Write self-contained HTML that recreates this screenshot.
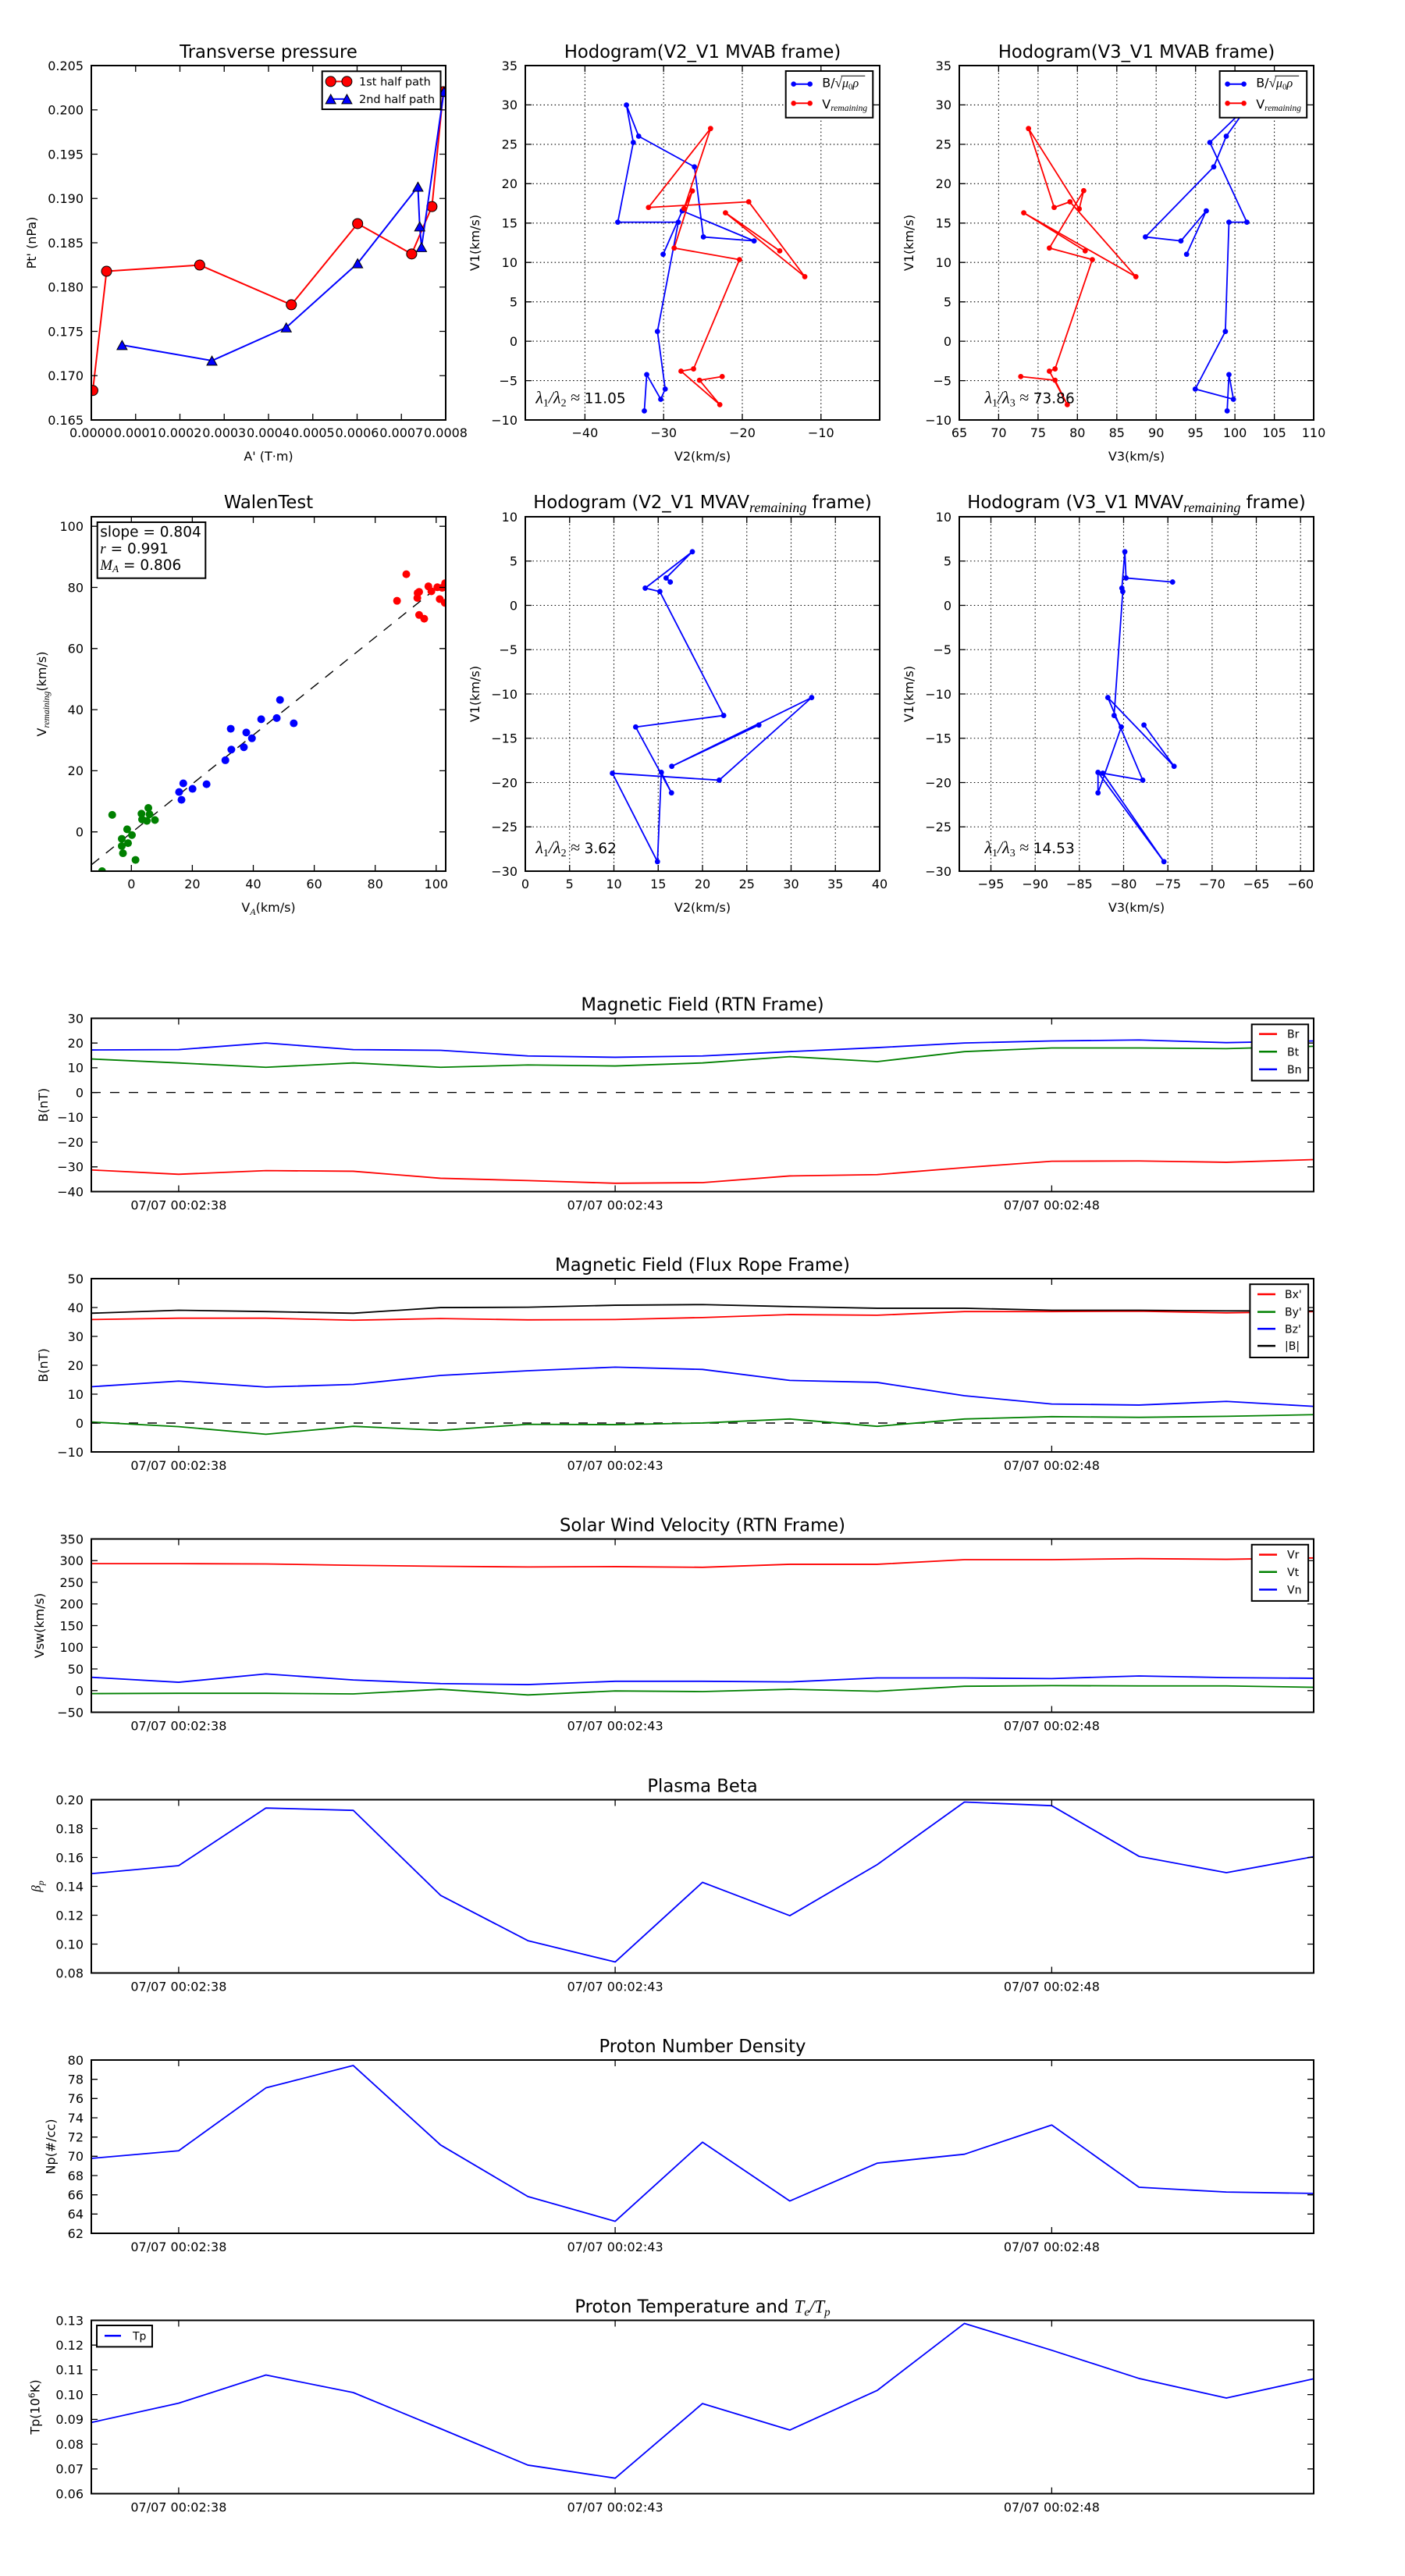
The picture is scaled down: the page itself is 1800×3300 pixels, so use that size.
<!DOCTYPE html>
<html><head><meta charset="utf-8">
<style>
html,body{margin:0;padding:0;background:#fff;}
svg{display:block;}
text{font-family:"DejaVu Sans","Liberation Sans",sans-serif;fill:#000;}
.tk{font-size:16px;}
.ttl{font-size:22.7px;}
.lb{font-size:16px;}
.mi{font-family:"Liberation Serif","DejaVu Serif",serif;font-style:italic;}
.mr{font-family:"Liberation Serif","DejaVu Serif",serif;font-style:normal;}
.fr{fill:none;stroke:#000;stroke-width:2;}
.tick{fill:none;stroke:#000;stroke-width:1.3;}
.grid{fill:none;stroke:#000;stroke-width:1.1;stroke-dasharray:1.5,3.2;}
.ln{fill:none;stroke-width:1.8;vector-effect:non-scaling-stroke;stroke-linejoin:round;}
.dz{fill:none;stroke:#000;stroke-width:1.4;stroke-dasharray:12,12;}
</style></head><body>
<svg width="1800" height="3300" viewBox="0 0 1800 3300" xmlns="http://www.w3.org/2000/svg">
<rect width="1800" height="3300" fill="#fff"/>
<defs>
<clipPath id="c1"><rect x="117" y="84" width="454" height="454"/></clipPath>
<clipPath id="c2"><rect x="673" y="84" width="454" height="454"/></clipPath>
<clipPath id="c3"><rect x="1229" y="84" width="454" height="454"/></clipPath>
<clipPath id="c4"><rect x="117" y="662" width="454" height="454"/></clipPath>
<clipPath id="c5"><rect x="673" y="662" width="454" height="454"/></clipPath>
<clipPath id="c6"><rect x="1229" y="662" width="454" height="454"/></clipPath>
<clipPath id="t1"><rect x="117" y="1304.5" width="1566" height="222"/></clipPath>
<clipPath id="t2"><rect x="117" y="1638" width="1566" height="222"/></clipPath>
<clipPath id="t3"><rect x="117" y="1971.5" width="1566" height="222"/></clipPath>
<clipPath id="t4"><rect x="117" y="2305.5" width="1566" height="222"/></clipPath>
<clipPath id="t5"><rect x="117" y="2639" width="1566" height="222"/></clipPath>
<clipPath id="t6"><rect x="117" y="2972.5" width="1566" height="222"/></clipPath>
<marker id="m1r" markerUnits="userSpaceOnUse" markerWidth="60" markerHeight="60" viewBox="-30 -30 60 60" refX="0" refY="0" overflow="visible"><ellipse rx="17" ry="17.9" fill="#f00" stroke="#000" stroke-width="2.7"/></marker>
<marker id="m1b" markerUnits="userSpaceOnUse" markerWidth="60" markerHeight="60" viewBox="-30 -30 60 60" refX="0" refY="0" overflow="visible"><polygon points="0,-16 17,16 -17,16" fill="#00f" stroke="#000" stroke-width="2.7"/></marker>
<marker id="mb" markerUnits="userSpaceOnUse" markerWidth="30" markerHeight="30" viewBox="-15 -15 30 30" refX="0" refY="0" overflow="visible"><ellipse rx="8.9" ry="9.3" fill="#00f"/></marker>
<marker id="mr" markerUnits="userSpaceOnUse" markerWidth="30" markerHeight="30" viewBox="-15 -15 30 30" refX="0" refY="0" overflow="visible"><ellipse rx="8.9" ry="9.3" fill="#f00"/></marker>
<marker id="wg" markerUnits="userSpaceOnUse" markerWidth="40" markerHeight="40" viewBox="-20 -20 40 40" refX="0" refY="0" overflow="visible"><ellipse rx="13.1" ry="13.5" fill="#008000"/></marker>
<marker id="wb" markerUnits="userSpaceOnUse" markerWidth="40" markerHeight="40" viewBox="-20 -20 40 40" refX="0" refY="0" overflow="visible"><ellipse rx="13.1" ry="13.5" fill="#00f"/></marker>
<marker id="wr" markerUnits="userSpaceOnUse" markerWidth="40" markerHeight="40" viewBox="-20 -20 40 40" refX="0" refY="0" overflow="visible"><ellipse rx="13.1" ry="13.5" fill="#f00"/></marker>
</defs>

<!-- ================= PLOT 1: Transverse pressure ================= -->
<text class="ttl" x="344" y="74" text-anchor="middle">Transverse pressure</text>
<g clip-path="url(#c1)"><g transform="matrix(0.38248 0 0 0.36349 0.34 30.2)">
<polyline class="ln" stroke="#f00" style="stroke-width:2" points="310,1293 356,873 668,851 975,991 1197,705 1378,812 1446,645 1484,240" marker-start="url(#m1r)" marker-mid="url(#m1r)" marker-end="url(#m1r)"/>
<polyline class="ln" stroke="#00f" style="stroke-width:2" points="408,1133 709,1188 958,1071 1197,845 1399,575 1405,715 1411,788 1486,240" marker-start="url(#m1b)" marker-mid="url(#m1b)" marker-end="url(#m1b)"/>
</g></g>
<path class="tick" d="M173.75 538V530M230.5 538V530M287.25 538V530M344 538V530M400.75 538V530M457.5 538V530M514.25 538V530M173.75 84V92M230.5 84V92M287.25 84V92M344 84V92M400.75 84V92M457.5 84V92M514.25 84V92M117 140.75H125M117 197.5H125M117 254.25H125M117 311H125M117 367.75H125M117 424.5H125M117 481.25H125M571 140.75H563M571 197.5H563M571 254.25H563M571 311H563M571 367.75H563M571 424.5H563M571 481.25H563"/>
<rect class="fr" x="117" y="84" width="454" height="454"/>
<g class="tk" text-anchor="middle">
<text x="117" y="560">0.0000</text><text x="173.75" y="560">0.0001</text><text x="230.5" y="560">0.0002</text><text x="287.25" y="560">0.0003</text><text x="344" y="560">0.0004</text><text x="400.75" y="560">0.0005</text><text x="457.5" y="560">0.0006</text><text x="514.25" y="560">0.0007</text><text x="571" y="560">0.0008</text>
</g>
<g class="tk" text-anchor="end">
<text x="107" y="89.8">0.205</text><text x="107" y="146.5">0.200</text><text x="107" y="203.3">0.195</text><text x="107" y="260">0.190</text><text x="107" y="316.8">0.185</text><text x="107" y="373.5">0.180</text><text x="107" y="430.3">0.175</text><text x="107" y="487">0.170</text><text x="107" y="543.8">0.165</text>
</g>
<text class="lb" x="344" y="590" text-anchor="middle">A' (T·m)</text>
<text class="lb" transform="translate(46,311) rotate(-90)" text-anchor="middle">Pt' (nPa)</text>
<rect x="412.7" y="91.3" width="151.8" height="48.7" fill="#fff" stroke="#000" stroke-width="2"/>
<line x1="423.7" y1="104.4" x2="444.4" y2="104.4" stroke="#f00" stroke-width="2"/>
<circle cx="423.7" cy="104.4" r="6.5" fill="#f00" stroke="#000"/><circle cx="444.4" cy="104.4" r="6.5" fill="#f00" stroke="#000"/>
<text x="460" y="109.6" font-size="14.5">1st half path</text>
<line x1="423.7" y1="126.9" x2="444.4" y2="126.9" stroke="#00f" stroke-width="2"/>
<polygon points="423.7,120.9 430.2,132.9 417.2,132.9" fill="#00f" stroke="#000"/><polygon points="444.4,120.9 450.9,132.9 437.9,132.9" fill="#00f" stroke="#000"/>
<text x="460" y="132.1" font-size="14.5">2nd half path</text>

<!-- ================= PLOT 2: Hodogram V2_V1 MVAB ================= -->
<text class="ttl" x="900" y="74" text-anchor="middle">Hodogram(V2_V1 MVAB frame)</text>
<path class="grid" d="M749.4 84V538M850.2 84V538M951 84V538M1051.8 84V538M673 134.4H1127M673 184.9H1127M673 235.3H1127M673 285.8H1127M673 336.2H1127M673 386.7H1127M673 437.1H1127M673 487.6H1127"/>
<g clip-path="url(#c2)"><g transform="matrix(0.38215 0 0 0.36349 600.39 30.2)">
<polyline class="ln" stroke="#00f" points="652,813 716,660 957,766 787,752 757,505 570,397 529,287 552,419 500,700 703,700 633,1085 659,1288 644,1324 597,1237 589,1365" marker-start="url(#mb)" marker-mid="url(#mb)" marker-end="url(#mb)"/>
<polyline class="ln" stroke="#f00" points="1043,801 861,667 1127,892 939,628 603,648 811,370 722,652 750,590 689,791 908,832 754,1217 712,1225 842,1343 774,1257 850,1244" marker-start="url(#mr)" marker-mid="url(#mr)" marker-end="url(#mr)"/>
</g></g>
<path class="tick" d="M749.4 538V530M850.2 538V530M951 538V530M1051.8 538V530M749.4 84V92M850.2 84V92M951 84V92M1051.8 84V92M673 134.4H681M673 184.9H681M673 235.3H681M673 285.8H681M673 336.2H681M673 386.7H681M673 437.1H681M673 487.6H681M1127 134.4H1119M1127 184.9H1119M1127 235.3H1119M1127 285.8H1119M1127 336.2H1119M1127 386.7H1119M1127 437.1H1119M1127 487.6H1119"/>
<rect class="fr" x="673" y="84" width="454" height="454"/>
<g class="tk" text-anchor="middle">
<text x="749.4" y="560">−40</text><text x="850.2" y="560">−30</text><text x="951" y="560">−20</text><text x="1051.8" y="560">−10</text>
</g>
<g class="tk" text-anchor="end">
<text x="663" y="89.8">35</text><text x="663" y="140.2">30</text><text x="663" y="190.7">25</text><text x="663" y="241.1">20</text><text x="663" y="291.6">15</text><text x="663" y="342">10</text><text x="663" y="392.5">5</text><text x="663" y="442.9">0</text><text x="663" y="493.4">−5</text><text x="663" y="543.8">−10</text>
</g>
<text class="lb" x="900" y="590" text-anchor="middle">V2(km/s)</text>
<text class="lb" transform="translate(614,311) rotate(-90)" text-anchor="middle">V1(km/s)</text>
<text x="686.4" y="516.6" font-size="18.5"><tspan class="mi" font-size="22">λ</tspan><tspan class="mr" font-size="14" dy="4">1</tspan><tspan class="mi" font-size="22" dy="-4">/</tspan><tspan class="mi" font-size="22">λ</tspan><tspan class="mr" font-size="14" dy="4">2</tspan><tspan class="mr" font-size="22" dy="-4"> ≈ </tspan>11.05</text>
<rect x="1006.7" y="91" width="111.6" height="59.7" fill="#fff" stroke="#000" stroke-width="2"/>
<line x1="1016.7" y1="107.7" x2="1037.7" y2="107.7" stroke="#00f" stroke-width="2"/>
<circle cx="1016.7" cy="107.7" r="3.3" fill="#00f"/><circle cx="1037.7" cy="107.7" r="3.3" fill="#00f"/>
<text x="1053.3" y="111.7" font-size="16">B/<tspan class="mr" font-size="17">√</tspan><tspan class="mi" font-size="16">μ</tspan><tspan class="mr" font-size="11" dy="3">0</tspan><tspan class="mi" font-size="16" dy="-3">ρ</tspan></text>
<line x1="1077.5" y1="97.3" x2="1108.3" y2="97.3" stroke="#000" stroke-width="1"/>
<line x1="1016.7" y1="132.3" x2="1037.7" y2="132.3" stroke="#f00" stroke-width="2"/>
<circle cx="1016.7" cy="132.3" r="3.3" fill="#f00"/><circle cx="1037.7" cy="132.3" r="3.3" fill="#f00"/>
<text x="1053.3" y="139" font-size="16">V<tspan class="mi" font-size="11.5" dy="3">remaining</tspan></text>

<!-- ================= PLOT 3: Hodogram V3_V1 MVAB ================= -->
<text class="ttl" x="1456" y="74" text-anchor="middle">Hodogram(V3_V1 MVAB frame)</text>
<path class="grid" d="M1279.4 84V538M1329.9 84V538M1380.3 84V538M1430.8 84V538M1481.2 84V538M1531.7 84V538M1582.1 84V538M1632.6 84V538M1229 134.4H1683M1229 184.9H1683M1229 235.3H1683M1229 285.8H1683M1229 336.2H1683M1229 386.7H1683M1229 437.1H1683M1229 487.6H1683"/>
<g clip-path="url(#c3)"><g transform="matrix(0.38215 0 0 0.36349 1200.34 30.2)">
<polyline class="ln" stroke="#00f" points="837,813 903,660 818,766 699,752 928,505 970,397 1045,287 915,419 1039,700 979,700 967,1085 866,1288 994,1324 979,1237 973,1365" marker-start="url(#mb)" marker-mid="url(#mb)" marker-end="url(#mb)"/>
<polyline class="ln" stroke="#f00" points="497,801 291,667 667,892 446,628 393,648 307,370 477,653 492,589 377,791 521,832 396,1217 377,1225 437,1343 396,1257 281,1244" marker-start="url(#mr)" marker-mid="url(#mr)" marker-end="url(#mr)"/>
</g></g>
<path class="tick" d="M1279.4 538V530M1329.9 538V530M1380.3 538V530M1430.8 538V530M1481.2 538V530M1531.7 538V530M1582.1 538V530M1632.6 538V530M1279.4 84V92M1329.9 84V92M1380.3 84V92M1430.8 84V92M1481.2 84V92M1531.7 84V92M1582.1 84V92M1632.6 84V92M1229 134.4H1237M1229 184.9H1237M1229 235.3H1237M1229 285.8H1237M1229 336.2H1237M1229 386.7H1237M1229 437.1H1237M1229 487.6H1237M1683 134.4H1675M1683 184.9H1675M1683 235.3H1675M1683 285.8H1675M1683 336.2H1675M1683 386.7H1675M1683 437.1H1675M1683 487.6H1675"/>
<rect class="fr" x="1229" y="84" width="454" height="454"/>
<g class="tk" text-anchor="middle">
<text x="1229" y="560">65</text><text x="1279.4" y="560">70</text><text x="1329.9" y="560">75</text><text x="1380.3" y="560">80</text><text x="1430.8" y="560">85</text><text x="1481.2" y="560">90</text><text x="1531.7" y="560">95</text><text x="1582.1" y="560">100</text><text x="1632.6" y="560">105</text><text x="1683" y="560">110</text>
</g>
<g class="tk" text-anchor="end">
<text x="1219" y="89.8">35</text><text x="1219" y="140.2">30</text><text x="1219" y="190.7">25</text><text x="1219" y="241.1">20</text><text x="1219" y="291.6">15</text><text x="1219" y="342">10</text><text x="1219" y="392.5">5</text><text x="1219" y="442.9">0</text><text x="1219" y="493.4">−5</text><text x="1219" y="543.8">−10</text>
</g>
<text class="lb" x="1456" y="590" text-anchor="middle">V3(km/s)</text>
<text class="lb" transform="translate(1170,311) rotate(-90)" text-anchor="middle">V1(km/s)</text>
<text x="1261.5" y="516.6" font-size="18.5"><tspan class="mi" font-size="22">λ</tspan><tspan class="mr" font-size="14" dy="4">1</tspan><tspan class="mi" font-size="22" dy="-4">/</tspan><tspan class="mi" font-size="22">λ</tspan><tspan class="mr" font-size="14" dy="4">3</tspan><tspan class="mr" font-size="22" dy="-4"> ≈ </tspan>73.86</text>
<rect x="1562.6" y="91" width="111.6" height="59.7" fill="#fff" stroke="#000" stroke-width="2"/>
<line x1="1572.6" y1="107.7" x2="1593.6" y2="107.7" stroke="#00f" stroke-width="2"/>
<circle cx="1572.6" cy="107.7" r="3.3" fill="#00f"/><circle cx="1593.6" cy="107.7" r="3.3" fill="#00f"/>
<text x="1609.2" y="111.7" font-size="16">B/<tspan class="mr" font-size="17">√</tspan><tspan class="mi" font-size="16">μ</tspan><tspan class="mr" font-size="11" dy="3">0</tspan><tspan class="mi" font-size="16" dy="-3">ρ</tspan></text>
<line x1="1633.4" y1="97.3" x2="1664.2" y2="97.3" stroke="#000" stroke-width="1"/>
<line x1="1572.6" y1="132.3" x2="1593.6" y2="132.3" stroke="#f00" stroke-width="2"/>
<circle cx="1572.6" cy="132.3" r="3.3" fill="#f00"/><circle cx="1593.6" cy="132.3" r="3.3" fill="#f00"/>
<text x="1609.2" y="139" font-size="16">V<tspan class="mi" font-size="11.5" dy="3">remaining</tspan></text>

<!-- ================= PLOT 4: WalenTest ================= -->
<text class="ttl" x="344" y="651" text-anchor="middle">WalenTest</text>
<g clip-path="url(#c4)">
<line class="dz" x1="117" y1="1107.9" x2="571" y2="744.1" style="stroke-dasharray:13,11"/>
<g transform="matrix(0.38248 0 0 0.37001 0.34 610.2)">
<polyline fill="none" stroke="none" points="375,1172 425,1222 441,1242 407,1255 428,1270 407,1280 411,1305 453,1328 341,1367 473,1168 475,1188 496,1148 491,1193 518,1190 500,1170" marker-start="url(#wg)" marker-mid="url(#wg)" marker-end="url(#wg)"/>
<polyline fill="none" stroke="none" points="599,1093 607,1120 613,1063 644,1082 691,1066 754,983 772,874 774,946 816,938 824,887 843,907 874,841 926,837 937,774 983,855" marker-start="url(#wb)" marker-mid="url(#wb)" marker-end="url(#wb)"/>
<polyline fill="none" stroke="none" points="1329,431 1360,339 1397,421 1398,404 1403,400 1403,480 1420,493 1434,381 1444,398 1464,384 1472,425 1485,384 1490,370 1489,438 1480,386" marker-start="url(#wr)" marker-mid="url(#wr)" marker-end="url(#wr)"/>
</g></g>
<path class="tick" d="M168.3 1116V1108M246.4 1116V1108M324.5 1116V1108M402.6 1116V1108M480.7 1116V1108M558.8 1116V1108M168.3 662V670M246.4 662V670M324.5 662V670M402.6 662V670M480.7 662V670M558.8 662V670M117 1065.7H125M117 987.4H125M117 909.1H125M117 830.8H125M117 752.5H125M117 674.2H125M571 1065.7H563M571 987.4H563M571 909.1H563M571 830.8H563M571 752.5H563M571 674.2H563"/>
<rect class="fr" x="117" y="662" width="454" height="454"/>
<g class="tk" text-anchor="middle">
<text x="168.3" y="1138">0</text><text x="246.4" y="1138">20</text><text x="324.5" y="1138">40</text><text x="402.6" y="1138">60</text><text x="480.7" y="1138">80</text><text x="558.8" y="1138">100</text>
</g>
<g class="tk" text-anchor="end">
<text x="107" y="1071.5">0</text><text x="107" y="993.2">20</text><text x="107" y="914.9">40</text><text x="107" y="836.6">60</text><text x="107" y="758.3">80</text><text x="107" y="680">100</text>
</g>
<text class="lb" x="344" y="1168" text-anchor="middle">V<tspan class="mi" font-size="12" dy="4">A</tspan><tspan dy="-4">(km/s)</tspan></text>
<text class="lb" transform="translate(59,889) rotate(-90)" text-anchor="middle">V<tspan class="mi" font-size="11.5" dy="4">remaining</tspan><tspan dy="-4">(km/s)</tspan></text>
<rect x="124.7" y="669" width="138.6" height="71.7" fill="#fff" stroke="#000" stroke-width="2"/>
<text x="128.3" y="687.3" font-size="18.5">slope = 0.804</text>
<text x="128.3" y="709" font-size="18.5"><tspan class="mi" font-size="19">r</tspan> = 0.991</text>
<text x="128.3" y="730" font-size="18.5"><tspan class="mi" font-size="19">M</tspan><tspan class="mi" font-size="13" dy="3">A</tspan><tspan dy="-3"> = 0.806</tspan></text>

<!-- ================= PLOT 5: Hodogram V2_V1 MVAV ================= -->
<text class="ttl" x="900" y="651" text-anchor="middle">Hodogram (V2_V1 MVAV<tspan class="mi" font-size="18" dy="5">remaining</tspan><tspan dy="-5"> frame)</tspan></text>
<path class="grid" d="M729.75 662V1116M786.5 662V1116M843.25 662V1116M900 662V1116M956.75 662V1116M1013.5 662V1116M1070.25 662V1116M673 718.75H1127M673 775.5H1127M673 832.25H1127M673 889H1127M673 945.75H1127M673 1002.5H1127M673 1059.25H1127"/>
<g clip-path="url(#c5)"><g transform="matrix(0.38215 0 0 0.37001 600.39 610.2)">
<polyline class="ln" stroke="#00f" points="973,861 681,1004 1150,766 840,1052 482,1028 633,1334 646,1025 680,1096 560,868 855,828 641,399 592,387 750,261 662,352 676,366" marker-start="url(#mb)" marker-mid="url(#mb)" marker-end="url(#mb)"/>
</g></g>
<path class="tick" d="M729.75 1116V1108M786.5 1116V1108M843.25 1116V1108M900 1116V1108M956.75 1116V1108M1013.5 1116V1108M1070.25 1116V1108M729.75 662V670M786.5 662V670M843.25 662V670M900 662V670M956.75 662V670M1013.5 662V670M1070.25 662V670M673 718.75H681M673 775.5H681M673 832.25H681M673 889H681M673 945.75H681M673 1002.5H681M673 1059.25H681M1127 718.75H1119M1127 775.5H1119M1127 832.25H1119M1127 889H1119M1127 945.75H1119M1127 1002.5H1119M1127 1059.25H1119"/>
<rect class="fr" x="673" y="662" width="454" height="454"/>
<g class="tk" text-anchor="middle">
<text x="673" y="1138">0</text><text x="729.75" y="1138">5</text><text x="786.5" y="1138">10</text><text x="843.25" y="1138">15</text><text x="900" y="1138">20</text><text x="956.75" y="1138">25</text><text x="1013.5" y="1138">30</text><text x="1070.25" y="1138">35</text><text x="1127" y="1138">40</text>
</g>
<g class="tk" text-anchor="end">
<text x="663" y="667.8">10</text><text x="663" y="724.55">5</text><text x="663" y="781.3">0</text><text x="663" y="838.05">−5</text><text x="663" y="894.8">−10</text><text x="663" y="951.55">−15</text><text x="663" y="1008.3">−20</text><text x="663" y="1065.05">−25</text><text x="663" y="1121.8">−30</text>
</g>
<text class="lb" x="900" y="1168" text-anchor="middle">V2(km/s)</text>
<text class="lb" transform="translate(614,889) rotate(-90)" text-anchor="middle">V1(km/s)</text>
<text x="686.4" y="1093" font-size="18.5"><tspan class="mi" font-size="22">λ</tspan><tspan class="mr" font-size="14" dy="4">1</tspan><tspan class="mi" font-size="22" dy="-4">/</tspan><tspan class="mi" font-size="22">λ</tspan><tspan class="mr" font-size="14" dy="4">2</tspan><tspan class="mr" font-size="22" dy="-4"> ≈ </tspan>3.62</text>

<!-- ================= PLOT 6: Hodogram V3_V1 MVAV ================= -->
<text class="ttl" x="1456" y="651" text-anchor="middle">Hodogram (V3_V1 MVAV<tspan class="mi" font-size="18" dy="5">remaining</tspan><tspan dy="-5"> frame)</tspan></text>
<path class="grid" d="M1269.5 662V1116M1326.2 662V1116M1382.8 662V1116M1439.5 662V1116M1496.2 662V1116M1552.9 662V1116M1609.5 662V1116M1666.2 662V1116M1229 718.75H1683M1229 775.5H1683M1229 832.25H1683M1229 889H1683M1229 945.75H1683M1229 1002.5H1683M1229 1059.25H1683"/>
<g clip-path="url(#c6)"><g transform="matrix(0.38215 0 0 0.37001 1200.34 610.2)">
<polyline class="ln" stroke="#00f" points="694,861 795,1004 573,766 690,1052 556,1028 761,1334 540,1025 540,1096 618,868 594,828 623,399 620,387 630,261 634,352 790,366" marker-start="url(#mb)" marker-mid="url(#mb)" marker-end="url(#mb)"/>
</g></g>
<path class="tick" d="M1269.5 1116V1108M1326.2 1116V1108M1382.8 1116V1108M1439.5 1116V1108M1496.2 1116V1108M1552.9 1116V1108M1609.5 1116V1108M1666.2 1116V1108M1269.5 662V670M1326.2 662V670M1382.8 662V670M1439.5 662V670M1496.2 662V670M1552.9 662V670M1609.5 662V670M1666.2 662V670M1229 718.75H1237M1229 775.5H1237M1229 832.25H1237M1229 889H1237M1229 945.75H1237M1229 1002.5H1237M1229 1059.25H1237M1683 718.75H1675M1683 775.5H1675M1683 832.25H1675M1683 889H1675M1683 945.75H1675M1683 1002.5H1675M1683 1059.25H1675"/>
<rect class="fr" x="1229" y="662" width="454" height="454"/>
<g class="tk" text-anchor="middle">
<text x="1269.5" y="1138">−95</text><text x="1326.2" y="1138">−90</text><text x="1382.8" y="1138">−85</text><text x="1439.5" y="1138">−80</text><text x="1496.2" y="1138">−75</text><text x="1552.9" y="1138">−70</text><text x="1609.5" y="1138">−65</text><text x="1666.2" y="1138">−60</text>
</g>
<g class="tk" text-anchor="end">
<text x="1219" y="667.8">10</text><text x="1219" y="724.55">5</text><text x="1219" y="781.3">0</text><text x="1219" y="838.05">−5</text><text x="1219" y="894.8">−10</text><text x="1219" y="951.55">−15</text><text x="1219" y="1008.3">−20</text><text x="1219" y="1065.05">−25</text><text x="1219" y="1121.8">−30</text>
</g>
<text class="lb" x="1456" y="1168" text-anchor="middle">V3(km/s)</text>
<text class="lb" transform="translate(1170,889) rotate(-90)" text-anchor="middle">V1(km/s)</text>
<text x="1261.5" y="1093" font-size="18.5"><tspan class="mi" font-size="22">λ</tspan><tspan class="mr" font-size="14" dy="4">1</tspan><tspan class="mi" font-size="22" dy="-4">/</tspan><tspan class="mi" font-size="22">λ</tspan><tspan class="mr" font-size="14" dy="4">3</tspan><tspan class="mr" font-size="22" dy="-4"> ≈ </tspan>14.53</text>

<!-- ================= TIME PANEL 1: Magnetic Field RTN ================= -->
<text class="ttl" x="900" y="1294.5" text-anchor="middle">Magnetic Field (RTN Frame)</text>
<line class="dz" x1="117" y1="1399.6" x2="1683" y2="1399.6"/>
<g clip-path="url(#t1)"><g transform="matrix(111.857 0 0 0.42692 117 1269.92)">
<polyline class="ln" stroke="#f00" points="0,536 1,549 2,538 3,540 4,561 5,568 6,576 7,574 8,554 9,550 10,529 11,510 12,509 13,513 14,505"/>
<polyline class="ln" stroke="#008000" points="0,203 1,215 2,228 3,215 4,228 5,221 6,224 7,215 8,196 9,211 10,181 11,170 12,170 13,172 14,165"/>
<polyline class="ln" stroke="#00f" points="0,176 1,175 2,155 3,175 4,177 5,194 6,198 7,194 8,181 9,169 10,155 11,149 12,146 13,154 14,149"/>
</g></g>
<path class="tick" d="M228.9 1526.5V1518.5M788.1 1526.5V1518.5M1347.4 1526.5V1518.5M228.9 1304.5V1312.5M788.1 1304.5V1312.5M1347.4 1304.5V1312.5M117 1336.2H125M117 1367.9H125M117 1399.6H125M117 1431.4H125M117 1463.1H125M117 1494.8H125M1683 1336.2H1675M1683 1367.9H1675M1683 1399.6H1675M1683 1431.4H1675M1683 1463.1H1675M1683 1494.8H1675"/>
<rect class="fr" x="117" y="1304.5" width="1566" height="222"/>
<g class="tk" text-anchor="end">
<text x="107" y="1310.3">30</text><text x="107" y="1342">20</text><text x="107" y="1373.7">10</text><text x="107" y="1405.4">0</text><text x="107" y="1437.2">−10</text><text x="107" y="1468.9">−20</text><text x="107" y="1500.6">−30</text><text x="107" y="1532.3">−40</text>
</g>
<g class="tk" text-anchor="middle">
<text x="228.9" y="1549.5">07/07 00:02:38</text><text x="788.1" y="1549.5">07/07 00:02:43</text><text x="1347.4" y="1549.5">07/07 00:02:48</text>
</g>
<text class="lb" transform="translate(61,1415.5) rotate(-90)" text-anchor="middle">B(nT)</text>
<rect x="1603.7" y="1312.3" width="72.4" height="72.1" fill="#fff" stroke="#000" stroke-width="2"/>
<line x1="1613" y1="1324.6" x2="1636" y2="1324.6" stroke="#f00" stroke-width="2.5"/>
<line x1="1613" y1="1347.3" x2="1636" y2="1347.3" stroke="#008000" stroke-width="2.5"/>
<line x1="1613" y1="1369.9" x2="1636" y2="1369.9" stroke="#00f" stroke-width="2.5"/>
<g font-size="14"><text x="1649" y="1329.6">Br</text><text x="1649" y="1352.3">Bt</text><text x="1649" y="1374.9">Bn</text></g>

<!-- ================= TIME PANEL 2: Flux Rope Frame ================= -->
<text class="ttl" x="900" y="1628" text-anchor="middle">Magnetic Field (Flux Rope Frame)</text>
<line class="dz" x1="117" y1="1823" x2="1683" y2="1823"/>
<g clip-path="url(#t2)"><g transform="matrix(111.857 0 0 0.42610 117 1270.7)">
<polyline class="ln" stroke="#f00" points="0,985 1,981 2,981 3,987 4,982 5,986 6,985 7,979 8,970 9,972 10,961 11,961 12,960 13,965 14,961"/>
<polyline class="ln" stroke="#008000" points="0,1293 1,1307 2,1330 3,1306 4,1318 5,1300 6,1301 7,1296 8,1284 9,1306 10,1284 11,1277 12,1279 13,1276 14,1271"/>
<polyline class="ln" stroke="#00f" points="0,1187 1,1170 2,1188 3,1180 4,1153 5,1139 6,1128 7,1135 8,1168 9,1174 10,1214 11,1239 12,1242 13,1231 14,1246"/>
<polyline class="ln" stroke="#000" points="0,966 1,957 2,961 3,966 4,949 5,948 6,942 7,940 8,946 9,951 10,951 11,957 12,957 13,959 14,959"/>
</g></g>
<path class="tick" d="M228.9 1860V1852M788.1 1860V1852M1347.4 1860V1852M228.9 1638V1646M788.1 1638V1646M1347.4 1638V1646M117 1675H125M117 1712H125M117 1749H125M117 1786H125M117 1823H125M1683 1675H1675M1683 1712H1675M1683 1749H1675M1683 1786H1675M1683 1823H1675"/>
<rect class="fr" x="117" y="1638" width="1566" height="222"/>
<g class="tk" text-anchor="end">
<text x="107" y="1643.8">50</text><text x="107" y="1680.8">40</text><text x="107" y="1717.8">30</text><text x="107" y="1754.8">20</text><text x="107" y="1791.8">10</text><text x="107" y="1828.8">0</text><text x="107" y="1865.8">−10</text>
</g>
<g class="tk" text-anchor="middle">
<text x="228.9" y="1883">07/07 00:02:38</text><text x="788.1" y="1883">07/07 00:02:43</text><text x="1347.4" y="1883">07/07 00:02:48</text>
</g>
<text class="lb" transform="translate(61,1749) rotate(-90)" text-anchor="middle">B(nT)</text>
<rect x="1601.4" y="1645.2" width="74.7" height="93.8" fill="#fff" stroke="#000" stroke-width="2"/>
<line x1="1611" y1="1658" x2="1634" y2="1658" stroke="#f00" stroke-width="2.5"/>
<line x1="1611" y1="1680.6" x2="1634" y2="1680.6" stroke="#008000" stroke-width="2.5"/>
<line x1="1611" y1="1702.3" x2="1634" y2="1702.3" stroke="#00f" stroke-width="2.5"/>
<line x1="1611" y1="1724.1" x2="1634" y2="1724.1" stroke="#000" stroke-width="2.5"/>
<g font-size="14"><text x="1646" y="1663">Bx'</text><text x="1646" y="1685.6">By'</text><text x="1646" y="1707.3">Bz'</text><text x="1646" y="1729.1">|B|</text></g>

<!-- ================= TIME PANEL 3: Solar Wind Velocity ================= -->
<text class="ttl" x="900" y="1961.5" text-anchor="middle">Solar Wind Velocity (RTN Frame)</text>
<g clip-path="url(#t3)"><g transform="matrix(111.857 0 0 0.42692 117 1939.91)">
<polyline class="ln" stroke="#f00" points="0,148 1,148 2,149 3,153 4,156 5,158 6,157 7,159 8,150 9,150 10,136 11,136 12,133 13,135 14,131"/>
<polyline class="ln" stroke="#008000" points="0,538 1,537 2,537 3,539 4,525 5,542 6,530 7,532 8,525 9,531 10,516 11,514 12,515 13,515 14,519"/>
<polyline class="ln" stroke="#00f" points="0,489 1,504 2,479 3,497 4,508 5,511 6,501 7,501 8,503 9,491 10,491 11,493 12,485 13,490 14,492"/>
</g></g>
<path class="tick" d="M228.9 2193.5V2185.5M788.1 2193.5V2185.5M1347.4 2193.5V2185.5M228.9 1971.5V1979.5M788.1 1971.5V1979.5M1347.4 1971.5V1979.5M117 1999.25H125M117 2027H125M117 2054.75H125M117 2082.5H125M117 2110.25H125M117 2138H125M117 2165.75H125M1683 1999.25H1675M1683 2027H1675M1683 2054.75H1675M1683 2082.5H1675M1683 2110.25H1675M1683 2138H1675M1683 2165.75H1675"/>
<rect class="fr" x="117" y="1971.5" width="1566" height="222"/>
<g class="tk" text-anchor="end">
<text x="107" y="1977.3">350</text><text x="107" y="2005.05">300</text><text x="107" y="2032.8">250</text><text x="107" y="2060.55">200</text><text x="107" y="2088.3">150</text><text x="107" y="2116.05">100</text><text x="107" y="2143.8">50</text><text x="107" y="2171.55">0</text><text x="107" y="2199.3">−50</text>
</g>
<g class="tk" text-anchor="middle">
<text x="228.9" y="2216.5">07/07 00:02:38</text><text x="788.1" y="2216.5">07/07 00:02:43</text><text x="1347.4" y="2216.5">07/07 00:02:48</text>
</g>
<text class="lb" transform="translate(56,2082.5) rotate(-90)" text-anchor="middle">Vsw(km/s)</text>
<rect x="1603.7" y="1978.8" width="72.4" height="72.1" fill="#fff" stroke="#000" stroke-width="2"/>
<line x1="1613" y1="1991.6" x2="1636" y2="1991.6" stroke="#f00" stroke-width="2.5"/>
<line x1="1613" y1="2013.8" x2="1636" y2="2013.8" stroke="#008000" stroke-width="2.5"/>
<line x1="1613" y1="2036.4" x2="1636" y2="2036.4" stroke="#00f" stroke-width="2.5"/>
<g font-size="14"><text x="1649" y="1996.6">Vr</text><text x="1649" y="2018.8">Vt</text><text x="1649" y="2041.4">Vn</text></g>

<!-- ================= TIME PANEL 4: Plasma Beta ================= -->
<text class="ttl" x="900" y="2295.5" text-anchor="middle">Plasma Beta</text>
<g clip-path="url(#t4)"><g transform="matrix(111.857 0 0 0.42692 117 1940.06)">
<polyline class="ln" stroke="#00f" points="0,1078 1,1054 2,881 3,888 4,1143 5,1279 6,1343 7,1104 8,1204 9,1051 10,863 11,874 12,1026 13,1075 14,1027"/>
</g></g>
<path class="tick" d="M228.9 2527.5V2519.5M788.1 2527.5V2519.5M1347.4 2527.5V2519.5M228.9 2305.5V2313.5M788.1 2305.5V2313.5M1347.4 2305.5V2313.5M117 2342.5H125M117 2379.5H125M117 2416.5H125M117 2453.5H125M117 2490.5H125M1683 2342.5H1675M1683 2379.5H1675M1683 2416.5H1675M1683 2453.5H1675M1683 2490.5H1675"/>
<rect class="fr" x="117" y="2305.5" width="1566" height="222"/>
<g class="tk" text-anchor="end">
<text x="107" y="2311.3">0.20</text><text x="107" y="2348.3">0.18</text><text x="107" y="2385.3">0.16</text><text x="107" y="2422.3">0.14</text><text x="107" y="2459.3">0.12</text><text x="107" y="2496.3">0.10</text><text x="107" y="2533.3">0.08</text>
</g>
<g class="tk" text-anchor="middle">
<text x="228.9" y="2550.5">07/07 00:02:38</text><text x="788.1" y="2550.5">07/07 00:02:43</text><text x="1347.4" y="2550.5">07/07 00:02:48</text>
</g>
<text class="lb" transform="translate(52,2416.5) rotate(-90)" text-anchor="middle"><tspan class="mi" font-size="17">β</tspan><tspan class="mi" font-size="12" dy="4">p</tspan></text>

<!-- ================= TIME PANEL 5: Proton Number Density ================= -->
<text class="ttl" x="900" y="2629" text-anchor="middle">Proton Number Density</text>
<g clip-path="url(#t5)"><g transform="matrix(111.857 0 0 0.44048 117 2609.93)">
<polyline class="ln" stroke="#00f" points="0,352 1,330 2,147 3,82 4,313 5,463 6,535 7,305 8,476 9,366 10,340 11,255 12,436 13,450 14,454"/>
</g></g>
<path class="tick" d="M228.9 2861V2853M788.1 2861V2853M1347.4 2861V2853M228.9 2639V2647M788.1 2639V2647M1347.4 2639V2647M117 2663.7H125M117 2688.3H125M117 2713H125M117 2737.7H125M117 2762.3H125M117 2787H125M117 2811.7H125M117 2836.3H125M1683 2663.7H1675M1683 2688.3H1675M1683 2713H1675M1683 2737.7H1675M1683 2762.3H1675M1683 2787H1675M1683 2811.7H1675M1683 2836.3H1675"/>
<rect class="fr" x="117" y="2639" width="1566" height="222"/>
<g class="tk" text-anchor="end">
<text x="107" y="2644.8">80</text><text x="107" y="2669.5">78</text><text x="107" y="2694.1">76</text><text x="107" y="2718.8">74</text><text x="107" y="2743.5">72</text><text x="107" y="2768.1">70</text><text x="107" y="2792.8">68</text><text x="107" y="2817.5">66</text><text x="107" y="2842.1">64</text><text x="107" y="2866.8">62</text>
</g>
<g class="tk" text-anchor="middle">
<text x="228.9" y="2884">07/07 00:02:38</text><text x="788.1" y="2884">07/07 00:02:43</text><text x="1347.4" y="2884">07/07 00:02:48</text>
</g>
<text class="lb" transform="translate(70.5,2750) rotate(-90)" text-anchor="middle">Np(#/cc)</text>

<!-- ================= TIME PANEL 6: Proton Temperature ================= -->
<text class="ttl" x="900" y="2962.5" text-anchor="middle">Proton Temperature and <tspan class="mi" font-size="23">T</tspan><tspan class="mi" font-size="15" dy="4">e</tspan><tspan class="mi" font-size="23" dy="-4">/T</tspan><tspan class="mi" font-size="15" dy="4">p</tspan></text>
<g clip-path="url(#t6)"><g transform="matrix(111.857 0 0 0.44048 117 2609.1)">
<polyline class="ln" stroke="#00f" points="0,1122 1,1066 2,984 3,1035 4,1140 5,1246 6,1284 7,1067 8,1144 9,1029 10,834 11,912 12,994 13,1051 14,995"/>
</g></g>
<path class="tick" d="M228.9 3194.5V3186.5M788.1 3194.5V3186.5M1347.4 3194.5V3186.5M228.9 2972.5V2980.5M788.1 2972.5V2980.5M1347.4 2972.5V2980.5M117 3004.2H125M117 3035.9H125M117 3067.6H125M117 3099.4H125M117 3131.1H125M117 3162.8H125M1683 3004.2H1675M1683 3035.9H1675M1683 3067.6H1675M1683 3099.4H1675M1683 3131.1H1675M1683 3162.8H1675"/>
<rect class="fr" x="117" y="2972.5" width="1566" height="222"/>
<g class="tk" text-anchor="end">
<text x="107" y="2978.3">0.13</text><text x="107" y="3010">0.12</text><text x="107" y="3041.7">0.11</text><text x="107" y="3073.4">0.10</text><text x="107" y="3105.2">0.09</text><text x="107" y="3136.9">0.08</text><text x="107" y="3168.6">0.07</text><text x="107" y="3200.3">0.06</text>
</g>
<g class="tk" text-anchor="middle">
<text x="228.9" y="3217.5">07/07 00:02:38</text><text x="788.1" y="3217.5">07/07 00:02:43</text><text x="1347.4" y="3217.5">07/07 00:02:48</text>
</g>
<text class="lb" transform="translate(50.5,3083.5) rotate(-90)" text-anchor="middle">Tp(10<tspan font-size="11" dy="-6">6</tspan><tspan dy="6">K)</tspan></text>
<rect x="124" y="2979" width="71" height="27.4" fill="#fff" stroke="#000" stroke-width="2"/>
<line x1="134" y1="2992.3" x2="155" y2="2992.3" stroke="#00f" stroke-width="2.5"/>
<text x="170" y="2997.3" font-size="14">Tp</text>
</svg>
</body></html>
